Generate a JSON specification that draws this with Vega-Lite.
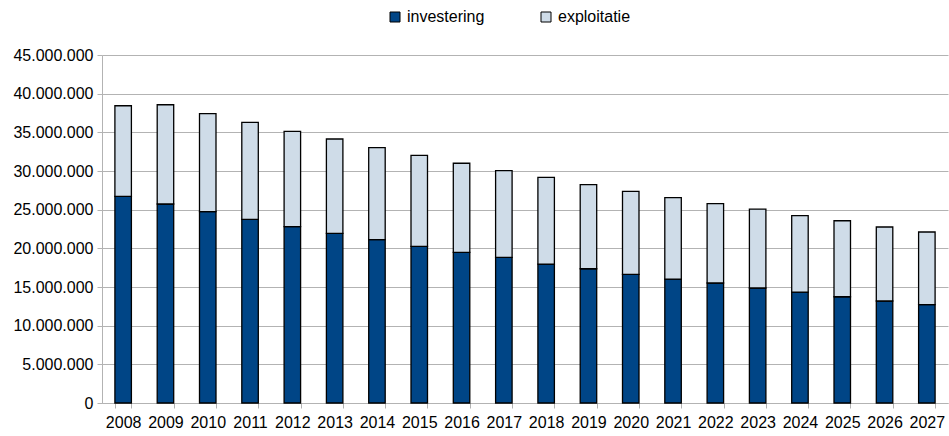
{
  "$schema": "https://vega.github.io/schema/vega-lite/v6.json",
  "width": 846,
  "height": 348,
  "autosize": {"type": "none"},
  "padding": {"left": 102, "top": 55, "right": 1, "bottom": 33},
  "background": "white",
  "config": {
    "locale": {"number": {"decimal": ",", "thousands": ".", "grouping": [3], "currency": ["€", ""]}},
    "font": "Liberation Sans",
    "view": {"stroke": null}
  },
  "data": {
    "values": [
      {"year": "2008", "type": "investering", "value": 26730000},
      {"year": "2008", "type": "exploitatie", "value": 11710000},
      {"year": "2009", "type": "investering", "value": 25730000},
      {"year": "2009", "type": "exploitatie", "value": 12840000},
      {"year": "2010", "type": "investering", "value": 24740000},
      {"year": "2010", "type": "exploitatie", "value": 12670000},
      {"year": "2011", "type": "investering", "value": 23750000},
      {"year": "2011", "type": "exploitatie", "value": 12540000},
      {"year": "2012", "type": "investering", "value": 22800000},
      {"year": "2012", "type": "exploitatie", "value": 12330000},
      {"year": "2013", "type": "investering", "value": 21940000},
      {"year": "2013", "type": "exploitatie", "value": 12200000},
      {"year": "2014", "type": "investering", "value": 21120000},
      {"year": "2014", "type": "exploitatie", "value": 11890000},
      {"year": "2015", "type": "investering", "value": 20260000},
      {"year": "2015", "type": "exploitatie", "value": 11770000},
      {"year": "2016", "type": "investering", "value": 19480000},
      {"year": "2016", "type": "exploitatie", "value": 11520000},
      {"year": "2017", "type": "investering", "value": 18840000},
      {"year": "2017", "type": "exploitatie", "value": 11200000},
      {"year": "2018", "type": "investering", "value": 17970000},
      {"year": "2018", "type": "exploitatie", "value": 11210000},
      {"year": "2019", "type": "investering", "value": 17360000},
      {"year": "2019", "type": "exploitatie", "value": 10870000},
      {"year": "2020", "type": "investering", "value": 16640000},
      {"year": "2020", "type": "exploitatie", "value": 10730000},
      {"year": "2021", "type": "investering", "value": 16030000},
      {"year": "2021", "type": "exploitatie", "value": 10520000},
      {"year": "2022", "type": "investering", "value": 15520000},
      {"year": "2022", "type": "exploitatie", "value": 10250000},
      {"year": "2023", "type": "investering", "value": 14870000},
      {"year": "2023", "type": "exploitatie", "value": 10210000},
      {"year": "2024", "type": "investering", "value": 14350000},
      {"year": "2024", "type": "exploitatie", "value": 9870000},
      {"year": "2025", "type": "investering", "value": 13740000},
      {"year": "2025", "type": "exploitatie", "value": 9830000},
      {"year": "2026", "type": "investering", "value": 13190000},
      {"year": "2026", "type": "exploitatie", "value": 9570000},
      {"year": "2027", "type": "investering", "value": 12710000},
      {"year": "2027", "type": "exploitatie", "value": 9400000}
    ]
  },
  "mark": {"type": "bar", "stroke": "black", "strokeWidth": 1.3},
  "encoding": {
    "x": {
      "field": "year",
      "type": "ordinal",
      "scale": {"paddingInner": 0.61, "paddingOuter": 0.305},
      "axis": {
        "title": null,
        "labelAngle": 0,
        "labelFontSize": 16,
        "labelColor": "black",
        "labelPadding": 6,
        "tickBand": "extent",
        "tickSize": 5,
        "tickColor": "#b3b3b3",
        "domainColor": "#b3b3b3",
        "grid": false
      }
    },
    "y": {
      "field": "value",
      "type": "quantitative",
      "stack": "zero",
      "scale": {"domain": [0, 45000000], "nice": false},
      "axis": {
        "title": null,
        "values": [0, 5000000, 10000000, 15000000, 20000000, 25000000, 30000000, 35000000, 40000000, 45000000],
        "format": ",d",
        "labelFontSize": 16,
        "labelColor": "black",
        "labelPadding": 4,
        "tickSize": 5,
        "tickColor": "#b3b3b3",
        "domainColor": "#b3b3b3",
        "gridColor": "#b3b3b3",
        "gridWidth": 1
      }
    },
    "color": {
      "field": "type",
      "type": "nominal",
      "scale": {"domain": ["investering", "exploitatie"], "range": ["#004586", "#cfdce8"]},
      "legend": {
        "title": null,
        "orient": "none",
        "direction": "horizontal",
        "legendX": 285,
        "legendY": -46,
        "symbolType": "square",
        "symbolSize": 100,
        "symbolStrokeColor": "black",
        "symbolStrokeWidth": 1,
        "symbolOpacity": 1,
        "labelFontSize": 16,
        "labelColor": "black",
        "labelOffset": 4,
        "columnPadding": 53,
        "padding": 0
      }
    },
    "order": {"field": "type", "sort": "descending"}
  }
}
